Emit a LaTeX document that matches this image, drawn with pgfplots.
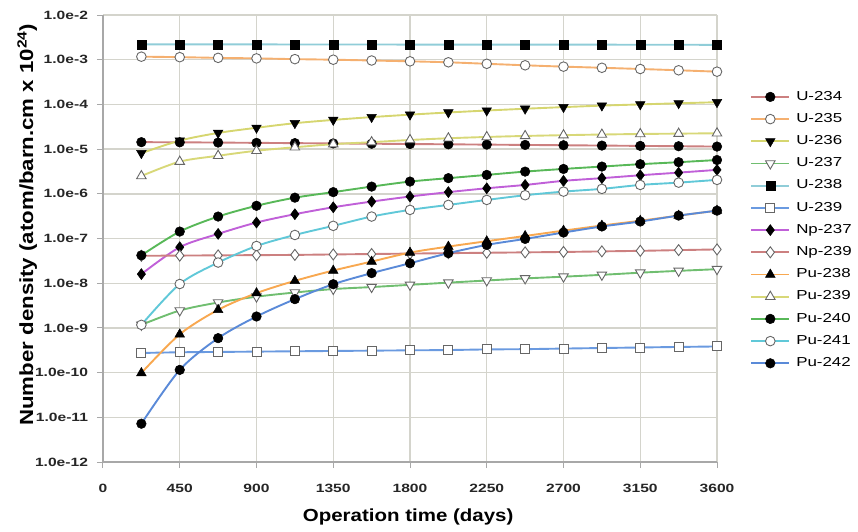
\documentclass[border=0pt]{standalone}
\usepackage{fontspec}
\setmainfont{Liberation Sans}
\newfontfamily\tickfont[FakeStretch=1.3]{Liberation Sans}
\newfontfamily\labfont[FakeStretch=1.17]{Liberation Sans}
\usepackage{pgfplots}
\usepackage{pgfplotstable}
\pgfplotsset{compat=1.18}

\pgfplotstableread{
t    U234    U235     U236    U237     U238    U239      Np237   Np239    Pu238    Pu239    Pu240   Pu241    Pu242
225  1.43e-5 1.17e-3  8.1e-6  1.17e-9  2.20e-3 2.75e-10  1.6e-8  4.10e-8  9.8e-11  2.5e-6   4.2e-8  1.17e-9  7.2e-12
450  1.42e-5 1.14e-3  1.55e-5 2.45e-9  2.20e-3 2.85e-10  6.4e-8  4.15e-8  7.2e-10  5.25e-6  1.43e-7 9.6e-9   1.15e-10
675  1.40e-5 1.10e-3  2.3e-5  3.7e-9   2.20e-3 2.90e-10  1.27e-7 4.20e-8  2.54e-9  7.1e-6   3.1e-7  2.9e-8   5.9e-10
900  1.38e-5 1.07e-3  3.0e-5  5.0e-9   2.20e-3 2.95e-10  2.28e-7 4.25e-8  6.0e-9   9.2e-6   5.4e-7  6.8e-8   1.8e-9
1125 1.36e-5 1.03e-3  3.8e-5  6.2e-9   2.19e-3 3.00e-10  3.5e-7  4.30e-8  1.13e-8  1.1e-5   8.2e-7  1.2e-7   4.4e-9
1350 1.34e-5 1.00e-3  4.5e-5  7.4e-9   2.19e-3 3.05e-10  5.0e-7  4.40e-8  1.92e-8  1.29e-5  1.09e-6 1.92e-7  9.5e-9
1575 1.32e-5 9.6e-4   5.2e-5  8.2e-9   2.19e-3 3.10e-10  6.7e-7  4.50e-8  3.05e-8  1.43e-5  1.45e-6 3.1e-7   1.68e-8
1800 1.30e-5 9.2e-4   5.9e-5  9.2e-9   2.18e-3 3.15e-10  8.7e-7  4.60e-8  4.84e-8  1.6e-5   1.88e-6 4.37e-7  2.8e-8
2025 1.28e-5 8.75e-4  6.6e-5  1.03e-8  2.18e-3 3.20e-10  1.09e-6 4.70e-8  6.6e-8   1.75e-5  2.24e-6 5.65e-7  4.7e-8
2250 1.26e-5 8.1e-4   7.3e-5  1.15e-8  2.18e-3 3.30e-10  1.33e-6 4.80e-8  8.7e-8   1.87e-5  2.65e-6 7.3e-7   7.2e-8
2475 1.24e-5 7.5e-4   8.0e-5  1.28e-8  2.17e-3 3.35e-10  1.58e-6 4.90e-8  1.14e-7  1.97e-5  3.14e-6 9.3e-7   9.8e-8
2700 1.22e-5 7.0e-4   8.7e-5  1.40e-8  2.17e-3 3.45e-10  1.95e-6 5.00e-8  1.5e-7   2.05e-5  3.6e-6  1.12e-6  1.36e-7
2925 1.20e-5 6.6e-4   9.4e-5  1.54e-8  2.17e-3 3.55e-10  2.24e-6 5.15e-8  1.95e-7  2.12e-5  4.07e-6 1.29e-6  1.86e-7
3150 1.18e-5 6.2e-4   1.0e-4  1.72e-8  2.16e-3 3.65e-10  2.6e-6  5.30e-8  2.5e-7   2.18e-5  4.6e-6  1.58e-6  2.4e-7
3375 1.16e-5 5.8e-4   1.06e-4 1.89e-8  2.16e-3 3.75e-10  2.98e-6 5.50e-8  3.25e-7  2.22e-5  5.1e-6  1.78e-6  3.26e-7
3600 1.14e-5 5.4e-4   1.12e-4 2.06e-8  2.15e-3 3.85e-10  3.43e-6 5.70e-8  4.2e-7   2.26e-5  5.7e-6  2.05e-6  4.2e-7
}\data

\definecolor{cU234}{RGB}{204,128,128}
\definecolor{cU235}{RGB}{245,176,112}
\definecolor{cU236}{RGB}{214,214,112}
\definecolor{cU237}{RGB}{112,190,112}
\definecolor{cU238}{RGB}{144,205,216}
\definecolor{cU239}{RGB}{106,154,224}
\definecolor{cNp237}{RGB}{192,96,216}
\definecolor{cNp239}{RGB}{204,128,128}
\definecolor{cPu238}{RGB}{248,168,80}
\definecolor{cPu239}{RGB}{216,216,120}
\definecolor{cPu240}{RGB}{88,184,88}
\definecolor{cPu241}{RGB}{96,200,216}
\definecolor{cPu242}{RGB}{90,138,216}
\definecolor{gridc}{RGB}{212,212,204}
\definecolor{axc}{RGB}{168,168,168}

\pgfplotsset{
  fcirc/.style={mark=*, mark size=4.8pt, mark options={solid, fill=black, draw=black, line width=0.5pt}},
  ocirc/.style={mark=*, mark size=4.8pt, mark options={solid, fill=white, draw=black!60, line width=0.9pt}},
  fsq/.style={mark=square*, mark size=4.5pt, mark options={solid, fill=black, draw=black, line width=0.5pt}},
  osq/.style={mark=square*, mark size=4.5pt, mark options={solid, fill=white, draw=black!60, line width=0.9pt}},
  ftri/.style={mark=triangle*, mark size=5.5pt, mark options={solid, fill=black, draw=black, line width=0.5pt}},
  otri/.style={mark=triangle*, mark size=5.5pt, mark options={solid, fill=white, draw=black!60, line width=0.9pt}},
  fdtri/.style={mark=triangle*, mark size=5.5pt, mark options={solid, rotate=180, fill=black, draw=black, line width=0.5pt}},
  odtri/.style={mark=triangle*, mark size=5.5pt, mark options={solid, rotate=180, fill=white, draw=black!60, line width=0.9pt}},
  fdia/.style={mark=diamond*, mark size=5.5pt, mark options={solid, fill=black, draw=black, line width=0.5pt}},
  odia/.style={mark=diamond*, mark size=5.5pt, mark options={solid, fill=white, draw=black!60, line width=0.9pt}},
  longlegend/.style={legend image code/.code={%
    \draw[##1, line width=1.9pt] (0pt,0pt) -- (38pt,0pt);
    \draw[##1, only marks] plot coordinates {(19pt,0pt)};}},
}

\begin{document}
\begin{tikzpicture}
\useasboundingbox (-103pt,-69pt) rectangle (755pt,462pt);
\begin{axis}[
  at={(0pt,0pt)}, anchor=south west,
  scale only axis, width=614pt, height=447pt,
  xmin=0, xmax=3600, ymin=1e-12, ymax=1e-2,
  ymode=log,
  xtick={0,450,900,1350,1800,2250,2700,3150,3600},
  xticklabels={0,450,900,1350,1800,2250,2700,3150,3600},
  ytick={1e-12,1e-11,1e-10,1e-9,1e-8,1e-7,1e-6,1e-5,1e-4,1e-3,1e-2},
  yticklabels={1.0e-12,1.0e-11,1.0e-10,1.0e-9,1.0e-8,1.0e-7,1.0e-6,1.0e-5,1.0e-4,1.0e-3,1.0e-2},
  yminorticks=false,
  /pgf/number format/assume math mode=true,
  axis lines*=left,
  axis line style={draw=axc, line width=1.6pt, -},
  tick align=outside,
  major tick length=6pt,
  tick style={draw=axc, line width=1pt},
  grid=major,
  major grid style={draw=gridc, line width=1.4pt},
  tick label style={font=\tickfont\bfseries\fontsize{12}{14}\selectfont, text=black!85},
  yticklabel style={xshift=-5.5pt},
  xticklabel style={yshift=-13pt},
  every axis y label/.style={at={(axis description cs:-0.114,0.531)}, rotate=90, anchor=base},
  every axis x label/.style={at={(axis description cs:0.497,-0.132)}, anchor=base},
  ylabel={\labfont\bfseries\fontsize{19}{22}\selectfont Number density (atom/barn.cm x 10\textsuperscript{24})},
  xlabel={\labfont\bfseries\fontsize{17.5}{20}\selectfont Operation time (days)},
  legend style={at={(axis description cs:1.054,0.834)}, anchor=north west, draw=none, fill=none,
    inner sep=0pt, row sep=7.2pt,
    font=\tickfont\fontsize{13}{15}\selectfont,
    nodes={inner xsep=6pt, inner ysep=2pt, text height=8.6pt, text depth=2.4pt}},
  legend cell align=left,
  longlegend,
  every axis plot/.append style={line width=1.9pt, smooth},
]
\addplot[color=cU234, fcirc] table[x=t, y=U234]{\data};
\addlegendentry{U-234}
\addplot[color=cU235, ocirc] table[x=t, y=U235]{\data};
\addlegendentry{U-235}
\addplot[color=cU236, fdtri] table[x=t, y=U236]{\data};
\addlegendentry{U-236}
\addplot[color=cU237, odtri] table[x=t, y=U237]{\data};
\addlegendentry{U-237}
\addplot[color=cU238, fsq] table[x=t, y=U238]{\data};
\addlegendentry{U-238}
\addplot[color=cU239, osq] table[x=t, y=U239]{\data};
\addlegendentry{U-239}
\addplot[color=cNp237, fdia] table[x=t, y=Np237]{\data};
\addlegendentry{Np-237}
\addplot[color=cNp239, odia] table[x=t, y=Np239]{\data};
\addlegendentry{Np-239}
\addplot[color=cPu238, ftri] table[x=t, y=Pu238]{\data};
\addlegendentry{Pu-238}
\addplot[color=cPu239, otri] table[x=t, y=Pu239]{\data};
\addlegendentry{Pu-239}
\addplot[color=cPu240, fcirc] table[x=t, y=Pu240]{\data};
\addlegendentry{Pu-240}
\addplot[color=cPu241, ocirc] table[x=t, y=Pu241]{\data};
\addlegendentry{Pu-241}
\addplot[color=cPu242, fcirc] table[x=t, y=Pu242]{\data};
\addlegendentry{Pu-242}
\end{axis}
\end{tikzpicture}
\end{document}
